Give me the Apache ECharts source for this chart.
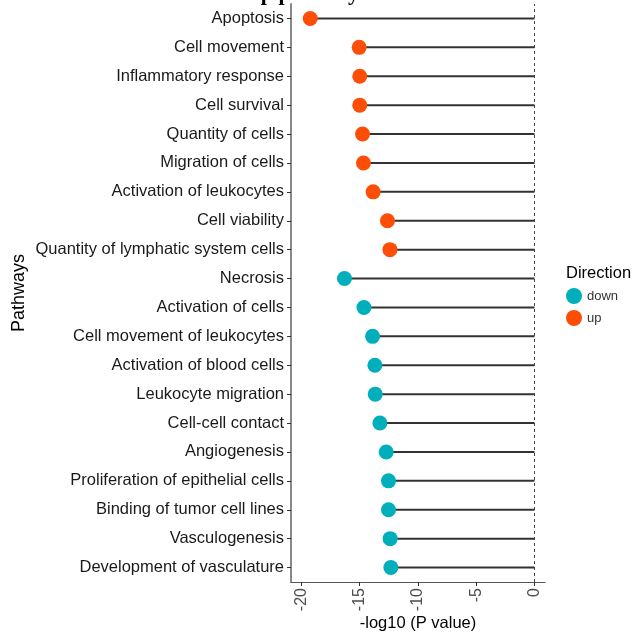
<!DOCTYPE html>
<html lang="en">
<head>
    <meta charset="utf-8">
    <title>Pathways</title>
    <script src="https://cdn.jsdelivr.net/npm/echarts@6/dist/echarts.min.js"></script>
    <style>
        html, body { margin: 0; padding: 0; background: #fff; }
        #chart { width: 634px; height: 633px; }
    </style>
</head>
<body>
    <div id="chart"></div>
    <script type="text/javascript">
        // pathways, top to bottom as drawn
        var pathways = ["Apoptosis", "Cell movement", "Inflammatory response", "Cell survival", "Quantity of cells",
            "Migration of cells", "Activation of leukocytes", "Cell viability", "Quantity of lymphatic system cells",
            "Necrosis", "Activation of cells", "Cell movement of leukocytes", "Activation of blood cells",
            "Leukocyte migration", "Cell-cell contact", "Angiogenesis", "Proliferation of epithelial cells",
            "Binding of tumor cell lines", "Vasculogenesis", "Development of vasculature"];
        var logP = [-19.25, -15.05, -15.0, -15.0, -14.76, -14.68, -13.85, -12.62, -12.41,
            -16.31, -14.64, -13.9, -13.7, -13.67, -13.27, -12.73, -12.53, -12.53, -12.39, -12.33];
        var direction = ["up", "up", "up", "up", "up", "up", "up", "up", "up",
            "down", "down", "down", "down", "down", "down", "down", "down", "down", "down", "down"];
        var xTicks = [-20, -15, -10, -5, 0];

        var colors = { down: "#00AFBB", up: "#FC4E07" };
        var font = "Liberation Sans, Arial, sans-serif";

        // category axis draws bottom-up, so reverse
        var cats = pathways.slice().reverse();
        var vals = logP.slice().reverse();
        var dirs = direction.slice().reverse();

        function pts(d) {
            return cats.map(function (c, i) { return dirs[i] == d ? [vals[i], c] : null; }).filter(function (p) { return p; });
        }

        var chart = echarts.init(document.getElementById("chart"));
        var option = {
            backgroundColor: "#fff",
            animation: false,
            title: [
                { text: "Top pathways", left: 232, top: -22, textStyle: { fontFamily: "Liberation Serif, serif", fontWeight: "bold", fontSize: 22, color: "#000" } },
                { text: "Direction", left: 561, top: 260, textStyle: { fontFamily: font, fontWeight: "normal", fontSize: 16.5, color: "#000" } }
            ],
            legend: {
                data: ["down", "up"],
                orient: "vertical",
                left: 561,
                top: 283,
                icon: "circle",
                itemWidth: 16,
                itemHeight: 16,
                itemGap: 6,
                textStyle: { fontFamily: font, fontSize: 13, color: "#333" }
            },
            grid: { left: 291, right: 89, top: 4, bottom: 51, containLabel: false, outerBoundsMode: "none" },
            xAxis: {
                type: "value",
                min: -20.9,
                max: 0.9,
                name: "-log10 (P value)",
                nameLocation: "middle",
                nameGap: 33,
                nameMoveOverlap: false,
                nameTextStyle: { fontFamily: font, fontSize: 16.5, color: "#000" },
                axisLine: { show: true, onZero: false, lineStyle: { color: "#555", width: 1.2 } },
                axisTick: { show: true, length: 4, lineStyle: { color: "#333" }, customValues: xTicks },
                axisLabel: { rotate: 90, fontFamily: font, fontSize: 16, color: "#4D4D4D", margin: 6, customValues: xTicks },
                splitLine: { show: false }
            },
            yAxis: {
                type: "category",
                data: cats,
                name: "Pathways",
                nameLocation: "middle",
                nameGap: 263,
                nameMoveOverlap: false,
                nameRotate: 90,
                nameTextStyle: { fontFamily: font, fontSize: 18, color: "#000" },
                axisLine: { show: true, onZero: false, lineStyle: { color: "#888", width: 2 } },
                axisTick: { show: true, alignWithLabel: true, length: 4, lineStyle: { color: "#333" } },
                axisLabel: { fontFamily: font, fontSize: 16.5, color: "#1a1a1a", margin: 7 },
                splitLine: { show: false }
            },
            series: [
                {
                    name: "stem",
                    type: "bar",
                    data: vals,
                    barWidth: 2,
                    itemStyle: { color: "#333" },
                    silent: true,
                    markLine: {
                        silent: true,
                        symbol: "none",
                        label: { show: false },
                        lineStyle: { color: "#444", type: [3, 3], width: 1 },
                        data: [{ xAxis: 0 }]
                    }
                },
                { name: "down", type: "scatter", data: pts("down"), symbolSize: 15, itemStyle: { color: colors.down, opacity: 1 }, z: 5 },
                { name: "up", type: "scatter", data: pts("up"), symbolSize: 15, itemStyle: { color: colors.up, opacity: 1 }, z: 5 }
            ],
            color: [colors.down, colors.up]
        };
        chart.setOption(option);
    </script>
</body>
</html>
